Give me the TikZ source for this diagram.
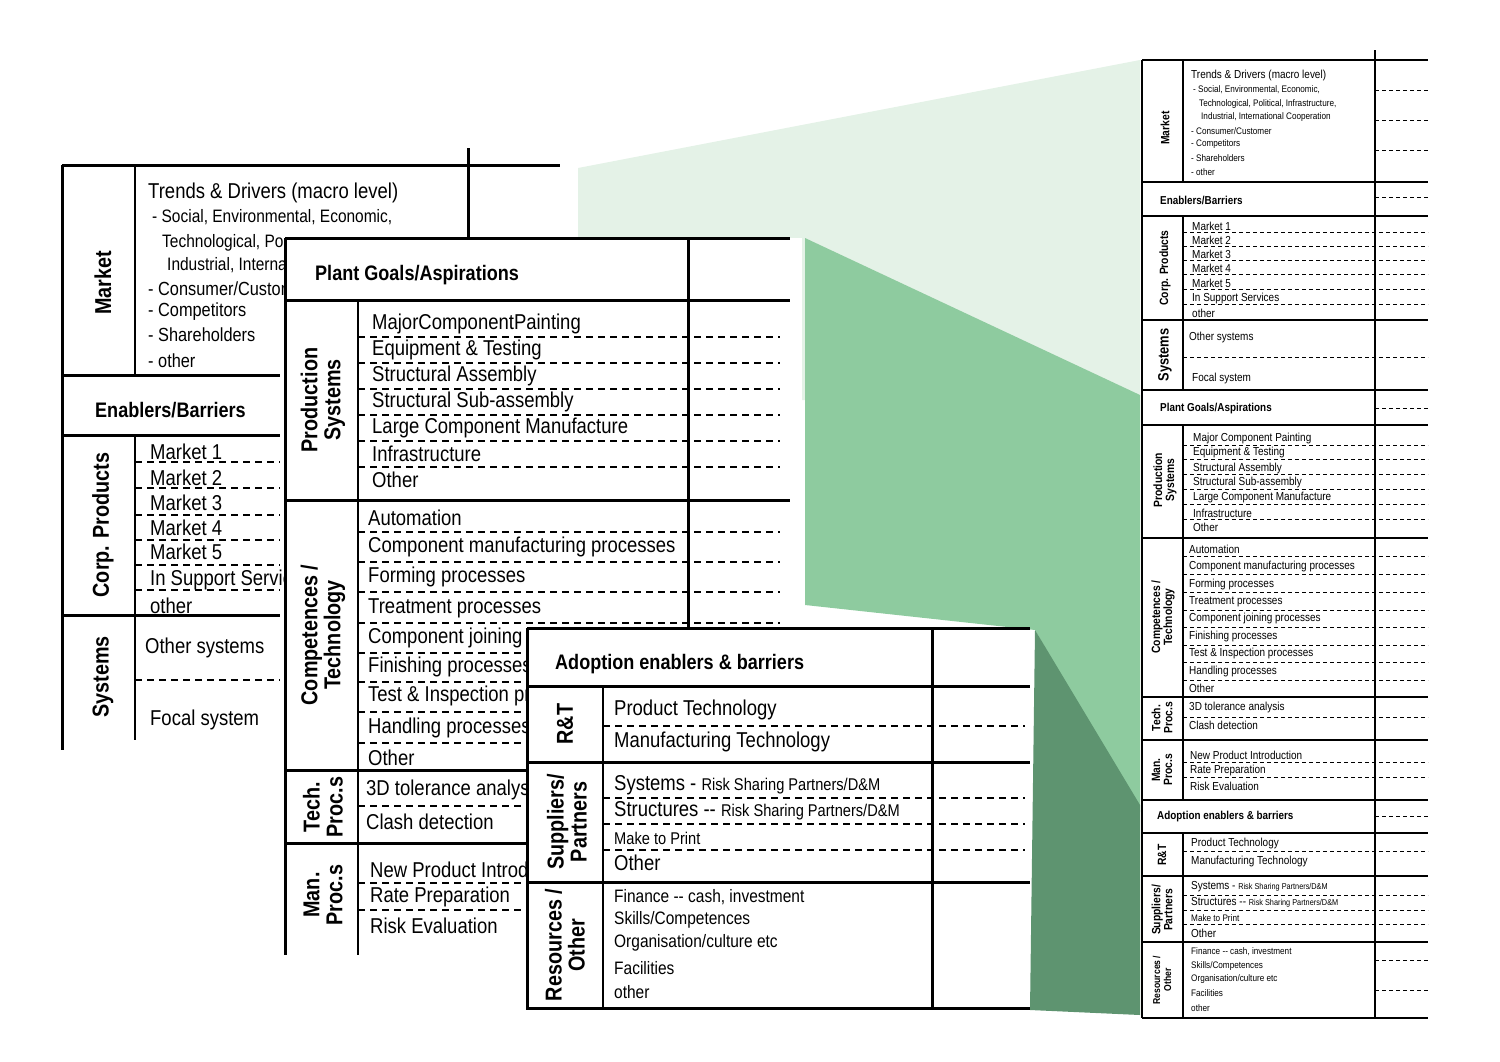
\documentclass[tikz,border=0pt]{standalone}
\usepackage{fontspec}
\setmainfont{Liberation Sans}
\newfontfamily\nar[FakeStretch=0.86]{Liberation Sans}
\definecolor{gA}{HTML}{E4F2E7}
\definecolor{gB}{HTML}{8ECB9F}
\definecolor{gC}{HTML}{5E9470}
\begin{document}
\begin{tikzpicture}[x=1pt,y=-1pt,
  tk/.style={line width=3pt},
  tn/.style={line width=1.6pt},
  ds/.style={line width=1.1pt,dash pattern=on 7pt off 5pt},
  dss/.style={line width=0.8pt,dash pattern=on 4pt off 3pt},
  L/.style={anchor=west,inner sep=0pt,font=\nar\fontsize{21.5}{22}\selectfont},
  Lb/.style={L,font=\nar\bfseries\fontsize{21}{22}\selectfont},
  R/.style={rotate=90,inner sep=0pt,align=center,font=\nar\bfseries\fontsize{23}{23}\selectfont},
  S/.style={anchor=west,inner sep=0pt,font=\nar\fontsize{11.6}{12}\selectfont},
  Sb/.style={S,font=\nar\bfseries\fontsize{11.5}{12}\selectfont},
  SR/.style={rotate=90,inner sep=0pt,align=center,font=\nar\bfseries\fontsize{12}{12}\selectfont}]
\useasboundingbox (0,0) rectangle (1500,1061);
% green projections
\fill[gA] (578,168) -- (1140,60) -- (1140,400) -- (578,400) -- cycle;
\fill[gB] (805,238) -- (1140,395) -- (1140,812) -- (1035,630) -- (805,605) -- cycle;
\fill[gC] (1035,630) -- (1140,805) -- (1140,1015) -- (1030,1010) -- cycle;
% ---------- panel 1
\draw[tk] (62,165) -- (560,165);
\draw[tk] (468,148) -- (468,240);
\draw[tk] (62,165) -- (62,750);
\draw[tn] (135,165) -- (135,375);
\draw[tn] (135,435) -- (135,740);
\foreach \y in {375,435,615} \draw[tk] (62,\y) -- (280,\y);
\foreach \y in {462,488,515,540,565,590,680} \draw[ds] (135,\y) -- (280,\y);
\begin{scope}
\clip (0,0) -- (560,0) -- (560,231) -- (283,231) -- (283,1061) -- (0,1061) -- cycle;
\node[R] (m1) at (103,283) {Market};
\node[L] at (148,193) {Trends \& Drivers (macro level)};
\node[L,font=\nar\fontsize{18}{19}\selectfont] at (152,217) {- Social, Environmental, Economic,};
\node[L,font=\nar\fontsize{18}{19}\selectfont] at (162,243) {Technological, Political, Infrastructure,};
\node[L,font=\nar\fontsize{18}{19}\selectfont] at (167,266) {Industrial, International Cooperation};
\node[L,font=\nar\fontsize{19}{19}\selectfont] at (148,289) {- Consumer/Customer};
\node[L,font=\nar\fontsize{19}{19}\selectfont] at (148,312) {- Competitors};
\node[L,font=\nar\fontsize{19}{19}\selectfont] at (148,335) {- Shareholders};
\node[L,font=\nar\fontsize{19}{19}\selectfont] at (148,361) {- other};
\node[Lb] at (95,410) {Enablers/Barriers};
\node[R] at (103,525) {Corp. Products};
\foreach \t/\y in {Market 1/452,Market 2/478,Market 3/503,Market 4/528,Market 5/552,In Support Services/580,other/606}
  \node[L] at (150,\y) {\t};
\node[R] at (103,677) {Systems};
\node[L] at (145,648) {Other systems};
\node[L] at (150,720) {Focal system};
\end{scope}
% ---------- panel 2
\fill[white] (285,238) rectangle (802,955);
\draw[tk] (285,238) -- (790,238);
\draw[tk] (285,238) -- (285,955);
\draw[tk] (688,238) -- (688,640);
\draw[tk] (285,300) -- (790,300);
\draw[tk] (285,500) -- (790,500);
\draw[tk] (285,770) -- (527,770);
\draw[tk] (285,843) -- (527,843);
\draw[tn] (358,300) -- (358,955);
\foreach \y in {337,363,389,415,441,467,532,562,592,623,653,682,712,743} \draw[ds] (358,\y) -- (780,\y);
\foreach \y in {806,883,910} \draw[ds] (358,\y) -- (527,\y);
\node[Lb] at (315,275) {Plant Goals/Aspirations};
\node[R] at (323,400) {Production\\Systems};
\foreach \t/\y in {MajorComponentPainting/324,Equipment \& Testing/350,Structural Assembly/376,Structural Sub-assembly/402,Large Component Manufacture/428,Infrastructure/454,Other/480}
  \node[L] at (372,\y) {\t};
\node[R] at (323,635) {Competences /\\Technology};
\foreach \t/\y in {Automation/518,Component manufacturing processes/547,Forming processes/577,Treatment processes/608,Component joining processes/638,Finishing processes/667,Test \& Inspection processes/696,Handling processes/728,Other/758}
  \node[L] at (368,\y) {\t};
\node[R] at (323,807) {Tech.\\Proc.s};
\node[L] at (366,790) {3D tolerance analysis};
\node[L] at (366,822) {Clash detection};
\node[R] at (323,895) {Man.\\Proc.s};
\node[L] at (370,870) {New Product Introduction};
\node[L] at (370,897) {Rate Preparation};
\node[L] at (370,926) {Risk Evaluation};
% ---------- panel 3
\fill[white] (527,628) rectangle (1030,1010);
\draw[tk] (527,628) -- (1030,628);
\draw[tk] (527,628) -- (527,1010);
\draw[tk] (932,628) -- (932,1010);
\foreach \y in {686,762,882,1008} \draw[tk] (527,\y) -- (1030,\y);
\draw[tn] (603,686) -- (603,1008);
\foreach \y in {726,798,824,850} \draw[ds] (603,\y) -- (1025,\y);
\node[Lb] at (555,664) {Adoption enablers \& barriers};
\node[R] at (565,724) {R\&T};
\node[L] at (614,710) {Product Technology};
\node[L] at (614,742) {Manufacturing Technology};
\node[R] at (567,822) {Suppliers/\\Partners};
\node[L] at (614,785) {Systems - {\fontsize{17}{18}\selectfont Risk Sharing Partners/D\&M}};
\node[L] at (614,811) {Structures -- {\fontsize{17}{18}\selectfont Risk Sharing Partners/D\&M}};
\node[L,font=\nar\fontsize{17}{18}\selectfont] at (614,838) {Make to Print};
\node[L] at (614,863) {Other};
\node[R] at (565,945) {Resources /\\Other};
\foreach \t/\y in {{Finance -- cash, investment}/897,{Skills/Competences}/920,{Organisation/culture etc}/943,Facilities/968,other/992}
  \node[L,font=\nar\fontsize{18}{19}\selectfont] at (614,\y) {\t};
% ---------- right panel
\draw[tn] (1142,60) -- (1428,60);
\draw[tn] (1142,60) -- (1142,1018);
\draw[tn] (1375,50) -- (1375,1018);
\foreach \a/\b in {60/182,216/390,425/800,833/1018} \draw[tn] (1183,\a) -- (1183,\b);
\foreach \y in {182,216,320,390,425,538,697,740,800,833,876,942,1018} \draw[tn] (1142,\y) -- (1428,\y);
\foreach \y in {232,246,260,274,289,304,357,445,459,474,489,504,519,556,574,592,610,627,645,662,680,717,762,777,851,895,910,924} \draw[dss] (1183,\y) -- (1428,\y);
\foreach \y in {90,120,150,197,408,816,960,990} \draw[dss] (1375,\y) -- (1428,\y);
\node[SR] at (1165,128) {Market};
\node[S] at (1191,75) {Trends \& Drivers (macro level)};
\foreach \t/\x/\y in {{- Social, Environmental, Economic,}/1193/90,{Technological, Political, Infrastructure,}/1199/104,{Industrial, International Cooperation}/1201/117,{- Consumer/Customer}/1191/131,{- Competitors}/1191/144,{- Shareholders}/1191/158,{- other}/1191/172}
  \node[S,font=\nar\fontsize{9.5}{10}\selectfont] at (\x,\y) {\t};
\node[Sb] at (1160,200) {Enablers/Barriers};
\node[SR] at (1165,268) {Corp. Products};
\foreach \t/\y in {Market 1/226,Market 2/240,Market 3/254,Market 4/268,Market 5/283,In Support  Services/298,other/313}
  \node[S] at (1192,\y) {\t};
\node[SR,font=\nar\bfseries\fontsize{15}{15}\selectfont] at (1165,355) {Systems};
\node[S] at (1189,337) {Other systems};
\node[S] at (1192,378) {Focal system};
\node[Sb] at (1160,409) {Plant Goals/Aspirations};
\node[SR] at (1165,480) {Production\\Systems};
\foreach \t/\y in {Major Component Painting/438,Equipment \& Testing/452,Structural Assembly/468,Structural Sub-assembly/482,Large Component Manufacture/497,Infrastructure/513,Other/527}
  \node[S] at (1193,\y) {\t};
\node[SR] at (1163,617) {Competences /\\Technology};
\foreach \t/\y in {Automation/549,Component manufacturing processes/566,Forming processes/584,Treatment processes/602,Component joining processes/618,Finishing processes/636,Test \& Inspection processes/653,Handling processes/671,Other/688}
  \node[S] at (1189,\y) {\t};
\node[SR] at (1162,718) {Tech.\\Proc.s};
\node[S] at (1189,707) {3D tolerance analysis};
\node[S] at (1189,725) {Clash detection};
\node[SR] at (1162,770) {Man.\\Proc.s};
\node[S] at (1190,755) {New Product Introduction};
\node[S] at (1190,770) {Rate Preparation};
\node[S] at (1190,786) {Risk Evaluation};
\node[Sb] at (1157,817) {Adoption enablers \& barriers};
\node[SR] at (1162,855) {R\&T};
\node[S] at (1191,843) {Product Technology};
\node[S] at (1191,861) {Manufacturing Technology};
\node[SR] at (1162,910) {Suppliers/\\Partners};
\node[S] at (1191,887) {Systems - {\fontsize{8.5}{9}\selectfont Risk Sharing Partners/D\&M}};
\node[S] at (1191,902) {Structures -- {\fontsize{8.5}{9}\selectfont Risk Sharing Partners/D\&M}};
\node[S,font=\nar\fontsize{9.5}{10}\selectfont] at (1191,918) {Make to Print};
\node[S] at (1191,933) {Other};
\node[SR,font=\nar\bfseries\fontsize{10}{11}\selectfont] at (1162,980) {Resources /\\Other};
\foreach \t/\y in {{Finance -- cash, investment}/952,{Skills/Competences}/966,{Organisation/culture etc}/979,Facilities/993,other/1008}
  \node[S,font=\nar\fontsize{9.5}{10}\selectfont] at (1191,\y) {\t};
\end{tikzpicture}
\end{document}
